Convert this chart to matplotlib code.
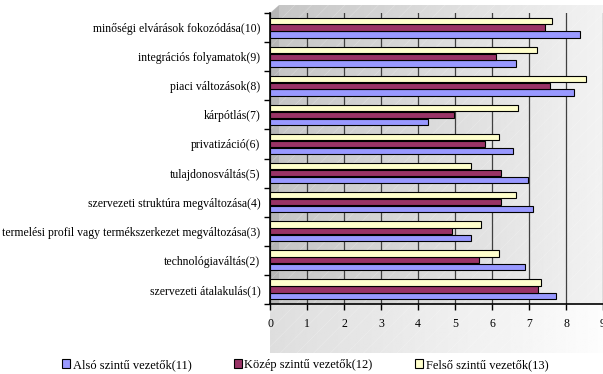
import numpy as np
import matplotlib.pyplot as plt
from matplotlib.patches import Rectangle, Polygon

plt.rcParams['font.family'] = ['Liberation Serif', 'DejaVu Serif']
plt.rcParams['hatch.linewidth'] = 0.5

categories = ['szervezeti átalakulás(1)', 'technológiaváltás(2)',
              'termelési profil vagy termékszerkezet megváltozása(3)',
              'szervezeti struktúra megváltozása(4)', 'tulajdonosváltás(5)',
              'privatizáció(6)', 'kárpótlás(7)', 'piaci változások(8)',
              'integrációs folyamatok(9)', 'minőségi elvárások fokozódása(10)']
also = [7.72, 6.88, 5.42, 7.12, 6.96, 6.56, 4.26, 8.22, 6.64, 8.39]
kozep = [7.23, 5.64, 4.93, 6.24, 6.24, 5.82, 4.96, 7.56, 6.10, 7.42]
felso = [7.32, 6.18, 5.69, 6.65, 5.44, 6.18, 6.70, 8.54, 7.21, 7.62]
series_names = ['Alsó szintű vezetők(11)', 'Közép szintű vezetők(12)', 'Felső szintű vezetők(13)']
colors = ['#9999FF', '#993366', '#FFFFCC']

W, H = 603, 374
fig = plt.figure(figsize=(W / 100, H / 100), dpi=100)

# background: 3d-ish wall and floor with gradient
bg = fig.add_axes([0, 0, 1, 1])
bg.set_xlim(0, W)
bg.set_ylim(H, 0)
bg.axis('off')
grad = np.linspace(0.77, 0.95, 256).reshape(1, -1)
bg.imshow(grad, extent=[270, 603, 304, 5], cmap='gray', vmin=0, vmax=1,
          aspect='auto', zorder=1)
floor = np.linspace(0.87, 0.99, 256).reshape(1, -1)
bg.imshow(floor, extent=[270, 603, 353, 304], cmap='gray', vmin=0, vmax=1,
          aspect='auto', zorder=1)
bg.add_patch(Polygon([[270, 13], [279, 5], [279, 304], [270, 304]],
                     closed=True, facecolor='#a8a8a8', edgecolor='none', zorder=2, alpha=0.5))
bg.add_patch(Polygon([[270, 13], [279, 5], [270, 5]], closed=True,
                     facecolor='white', edgecolor='none', zorder=2))
bg.add_patch(Rectangle((270, 5), 333, 348, facecolor='none', edgecolor='white',
                       hatch='//', linewidth=0, alpha=0.25, zorder=3))

ax = fig.add_axes([270 / W, 1 - 304 / H, 333 / W, (304 - 13) / H])
ax.patch.set_alpha(0)

y = np.arange(len(categories))
h = 0.215
off = 0.235
for vals, c, name, d in zip([also, kozep, felso], colors, series_names, [-off, 0, off]):
    ax.barh(y + d, vals, height=h, color=c, edgecolor='black', linewidth=0.8,
            label=name, zorder=3)

ax.set_xlim(0, 9)
ax.set_ylim(-0.5, len(categories) - 0.5)
ax.set_xticks(range(0, 10))
ax.set_xticklabels([str(i) for i in range(10)], fontsize=8.5)
ax.set_yticks(y)
ax.set_yticklabels(categories, fontsize=8.5)
ax.tick_params(axis='y', length=0, pad=7)
ax.set_yticks(np.arange(-0.5, len(categories), 1), minor=True)
ax.tick_params(axis='y', which='minor', length=4, width=1, direction='out')
ax.tick_params(axis='x', length=4, width=1, direction='out', pad=6)
ax.grid(axis='x', color='#404040', linewidth=0.9, zorder=1)
ax.set_axisbelow(True)
for s in ['top', 'right']:
    ax.spines[s].set_visible(False)
ax.spines['left'].set_linewidth(1.2)
ax.spines['bottom'].set_linewidth(1.2)

handles, labels = ax.get_legend_handles_labels()
fig.legend(handles, labels, loc='center left', bbox_to_anchor=(62 / W, 1 - 365 / H),
           ncol=3, frameon=False, fontsize=9, handlelength=0.65, handleheight=0.65,
           handletextpad=0.2, columnspacing=3.4, borderaxespad=0, borderpad=0)

fig.savefig('out.png', dpi=100)
